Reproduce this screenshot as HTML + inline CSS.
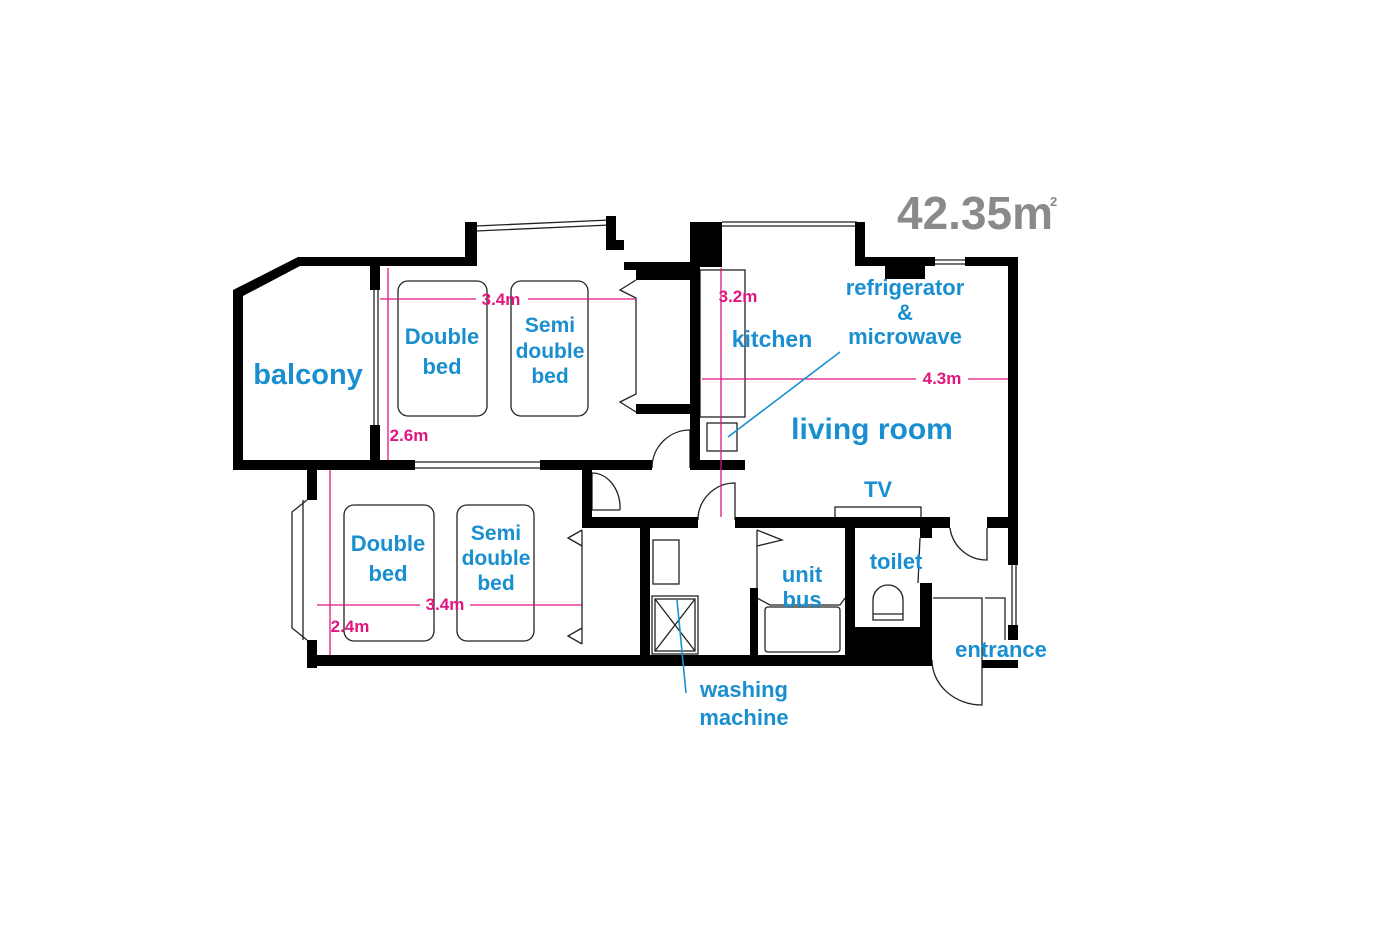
<!DOCTYPE html>
<html><head><style>
html,body{margin:0;padding:0;background:#fff;}
svg{display:block}
.b{fill:#1a8fd0;font-family:"Liberation Sans",sans-serif;font-weight:bold;text-anchor:middle}
.m{fill:#e0157f;font-family:"Liberation Sans",sans-serif;font-weight:bold;font-size:17px;text-anchor:middle}
</style></head><body>
<svg width="1400" height="935" viewBox="0 0 1400 935" xmlns="http://www.w3.org/2000/svg">
<rect width="1400" height="935" fill="#fff"/>
<text x="975" y="229" font-family="Liberation Sans,sans-serif" font-weight="bold" font-size="46" fill="#8a8a8a" text-anchor="middle">42.35m</text>
<text x="1050" y="206" font-family="Liberation Sans,sans-serif" font-weight="bold" font-size="13" fill="#8a8a8a">2</text>

<g fill="none" stroke="#222" stroke-width="1.3">
<path d="M476,226 L610,220 M476,231 L610,225"/>
<path d="M722,222 L857,222 M722,226 L857,226"/>
<path d="M935,260 L965,260 M935,264 L965,264"/>
<path d="M374,290 L374,425 M378,290 L378,425"/>
<path d="M415,462 L540,462 M415,468 L540,468"/>
<path d="M307,500 L292,512 L292,628 L307,640 M303,500 L303,640"/>
<path d="M1012,565 L1012,625 M1016,565 L1016,625"/>
<rect x="398" y="281" width="89" height="135" rx="10"/>
<rect x="511" y="281" width="77" height="135" rx="10"/>
<rect x="344" y="505" width="90" height="136" rx="10"/>
<rect x="457" y="505" width="77" height="136" rx="10"/>
<path d="M636,280 L620,290 L636,298 L636,394 L620,402 L636,412"/>
<path d="M582,530 L568,538 L582,546 M582,628 L568,636 L582,644 M582,530 L582,644"/>
<path d="M757,530 L782,540 L757,546 M757,530 L757,590"/>
<rect x="700" y="270" width="45" height="147"/>
<rect x="707" y="423" width="30" height="28"/>
<rect x="835" y="507" width="86" height="11"/>
<rect x="653" y="540" width="26" height="44"/>
<rect x="652" y="596" width="46" height="58"/>
<rect x="655" y="599" width="40" height="52"/>
<path d="M655,599 L695,651 M695,599 L655,651"/>
<rect x="765" y="607" width="75" height="45" rx="3"/>
<path d="M757,598 L770,605 L840,605 L845,598"/>
<path d="M873,600 A15,15 0 0 1 903,600 L903,620 L873,620 Z M873,614 L903,614"/>
<path d="M920,538 L918,583"/>
<path d="M933,598 L982,598 L982,660 M985,598 L1005,598 L1005,640"/>
<path d="M652,468 A38,38 0 0 1 690,430 L690,468"/>
<path d="M592,473 L592,510 M592,473 A28,35 0 0 1 620,510 M592,510 L620,510"/>
<path d="M698,520 A37,37 0 0 1 735,483 L735,520"/>
<path d="M950,528 A37,37 0 0 0 987,560 L987,528"/>
<path d="M932,660 A50,45 0 0 0 982,705 L982,660"/>
</g>

<g fill="#000">
<polygon points="233,290 298,257 475,257 475,266 300,266 243,296 243,470 233,470"/>
<rect x="465" y="222" width="12" height="44"/>
<rect x="606" y="216" width="10" height="34"/>
<polygon points="606,240 624,240 624,262 690,262 690,280 636,280 636,270 624,270 624,250 606,250"/>
<rect x="636" y="270" width="54" height="10"/>
<rect x="636" y="404" width="54" height="10"/>
<rect x="370" y="266" width="10" height="24"/>
<rect x="370" y="425" width="10" height="45"/>
<rect x="233" y="460" width="182" height="10"/>
<rect x="540" y="460" width="112" height="10"/>
<rect x="690" y="222" width="32" height="45"/>
<rect x="690" y="222" width="10" height="248"/>
<rect x="690" y="460" width="55" height="10"/>
<rect x="855" y="222" width="10" height="40"/>
<rect x="855" y="257" width="80" height="9"/>
<rect x="885" y="257" width="40" height="22"/>
<rect x="965" y="257" width="53" height="9"/>
<rect x="1008" y="257" width="10" height="308"/>
<rect x="1008" y="625" width="10" height="15"/>
<rect x="982" y="660" width="36" height="8"/>
<rect x="307" y="470" width="10" height="30"/>
<rect x="307" y="640" width="10" height="28"/>
<rect x="307" y="655" width="625" height="11"/>
<rect x="582" y="470" width="10" height="58"/>
<rect x="582" y="517" width="116" height="11"/>
<rect x="735" y="517" width="215" height="11"/>
<rect x="987" y="517" width="31" height="11"/>
<rect x="640" y="528" width="10" height="130"/>
<rect x="750" y="588" width="8" height="70"/>
<rect x="845" y="528" width="10" height="130"/>
<rect x="845" y="627" width="87" height="35"/>
<rect x="920" y="528" width="12" height="10"/>
<rect x="920" y="583" width="12" height="78"/>
</g>

<g stroke="#e0157f" stroke-width="1.3" fill="none">
<path d="M388,268 L388,460"/>
<path d="M380,299 L476,299 M528,299 L636,299"/>
<path d="M721,268 L721,517"/>
<path d="M702,379 L916,379 M968,379 L1008,379"/>
<path d="M330,470 L330,655"/>
<path d="M317,605 L420,605 M470,605 L582,605"/>
</g>
<text class="m" x="501" y="305">3.4m</text>
<text class="m" x="409" y="441">2.6m</text>
<text class="m" x="738" y="302">3.2m</text>
<text class="m" x="942" y="384">4.3m</text>
<text class="m" x="445" y="610">3.4m</text>
<text class="m" x="350" y="632">2.4m</text>

<g stroke="#1a8fd0" stroke-width="1.6">
<path d="M840,352 L728,437"/>
<path d="M677,600 L686,693"/>
</g>

<text class="b" x="308" y="384" font-size="29">balcony</text>
<text class="b" x="442" y="344" font-size="22">Double</text>
<text class="b" x="442" y="374" font-size="22">bed</text>
<text class="b" x="550" y="332" font-size="21">Semi</text>
<text class="b" x="550" y="358" font-size="21">double</text>
<text class="b" x="550" y="383" font-size="21">bed</text>
<text class="b" x="388" y="551" font-size="22">Double</text>
<text class="b" x="388" y="581" font-size="22">bed</text>
<text class="b" x="496" y="540" font-size="21">Semi</text>
<text class="b" x="496" y="565" font-size="21">double</text>
<text class="b" x="496" y="590" font-size="21">bed</text>
<text class="b" x="772" y="347" font-size="23">kitchen</text>
<text class="b" x="905" y="295" font-size="22">refrigerator</text>
<text class="b" x="905" y="320" font-size="22">&amp;</text>
<text class="b" x="905" y="344" font-size="22">microwave</text>
<text class="b" x="872" y="439" font-size="30">living room</text>
<text class="b" x="878" y="497" font-size="22">TV</text>
<text class="b" x="802" y="582" font-size="22">unit</text>
<text class="b" x="802" y="607" font-size="22">bus</text>
<text class="b" x="896" y="569" font-size="22">toilet</text>
<text class="b" x="1001" y="657" font-size="22">entrance</text>
<text class="b" x="744" y="697" font-size="22">washing</text>
<text class="b" x="744" y="725" font-size="22">machine</text>
</svg>
</body></html>
